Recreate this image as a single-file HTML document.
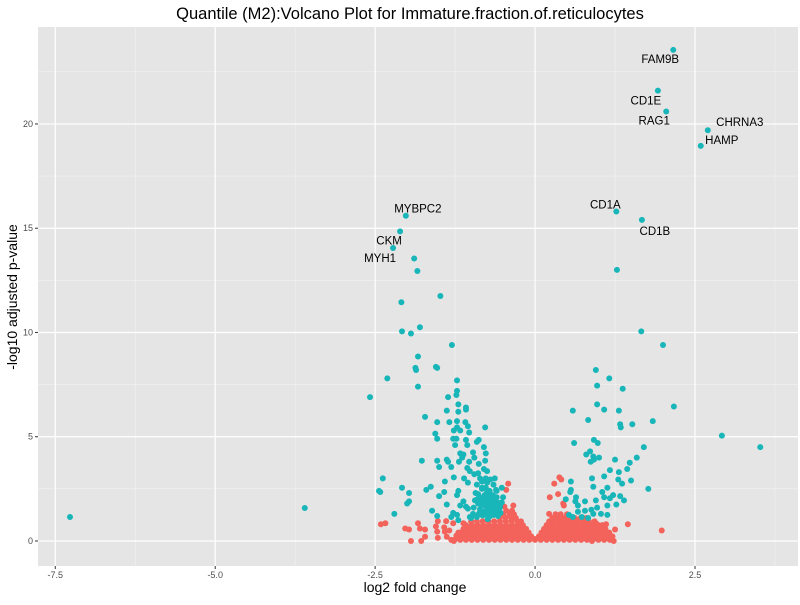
<!DOCTYPE html>
<html><head><meta charset="utf-8"><style>
body{margin:0;background:#fff;}
svg text{font-family:"Liberation Sans",Arial,sans-serif;}
</style></head><body>
<svg id="chart" width="800" height="600" xmlns="http://www.w3.org/2000/svg">
<text x="410" y="19" font-size="16.5" text-anchor="middle" fill="#000">Quantile (M2):Volcano Plot for Immature.fraction.of.reticulocytes</text>
<rect x="38" y="27" width="760" height="539" fill="#E5E5E5"/>
<g id="grid"></g><g id="ns"></g><g id="sig"></g><g id="labels"></g><g id="axes"></g>
<text x="415" y="592" font-size="14" text-anchor="middle">log2 fold change</text>
<text transform="translate(17,297) rotate(-90)" font-size="14" text-anchor="middle">-log10 adjusted p-value</text>
</svg>
<script>
const xTicks=[-7.5,-5.0,-2.5,0.0,2.5];
const xTickLabels=["-7.5","-5.0","-2.5","0.0","2.5"];
const yTicks=[0,5,10,15,20];
const yTickLabels=["0","5","10","15","20"];
const labelNames=["FAM9B","CD1E","RAG1","CHRNA3","HAMP","CD1A","CD1B","MYBPC2","CKM","MYH1"];
const labelX=[2.16,1.92,2.05,2.70,2.59,1.27,1.67,-2.02,-2.11,-2.22];
const labelY=[23.55,21.6,20.6,19.7,18.95,15.8,15.4,15.6,14.85,14.05];
const sigX=[-1.89,-1.84,1.28,-1.48,-2.09,-1.80,-2.08,-1.94,1.66,-1.30,2.0,-1.83,-1.87,-1.86,-1.55,-2.31,-2.58,-1.22,0.95,1.16,1.37,2.17,1.84,2.92,3.52,-3.6,-7.27,
-1.53,-1.83,-1.22,-1.36,-1.23,-1.20,-1.08,-1.08,-1.38,-1.2,-1.72,-1.53,-1.34,-1.22,-1.09,-1.05,-1.22,-1.27,-1.17,-0.78,-1.03,-1.56,-1.53,-1.28,-1.23,-1.08,-0.91,-0.88,-1.25,-1.06,-0.8,-0.77,-0.97,-1.17,-1.12,-0.95,-1.14,-1.77,-1.53,-1.38,-1.36,-1.19,-1.03,-0.88,-0.78,-1.31,-1.50,-1.06,-0.8,-0.75,-1.02,-0.89,-0.95,-1.27,-2.38,-1.41,-1.11,-1.05,-0.86,-0.77,-0.7,-0.63,-0.83,-0.75,-0.91,-0.83,-2.08,-1.63,-1.70,-2.42,-1.97,-1.42,-1.2,-1.22,-1.5,-0.6,-0.52,-0.75,-0.89,-0.81,-0.7,-0.6,-0.5,-1.12,-0.94,-0.89,-1.97,-2.0,-1.38,-1.17,-1.08,-1.05,-0.75,-0.66,-0.55,-0.73,-0.6,-0.86,-1.61,-2.2,-1.28,-1.22,-0.97,-1.53,-1.31,-1.2,-1.02,-0.91,-0.81,-0.7,-0.6,-0.65,-0.72,-0.58,-0.68,-0.62,-0.55,-0.78,-0.52,-0.66,-0.74,-2.44,
-0.58,-0.64,-0.7,-0.76,-0.82,-0.88,-0.56,-0.62,-0.68,-0.74,-0.8,-0.86,-0.6,-0.66,-0.72,-0.78,-0.84,-0.63,-0.69,-0.75,-0.81,-0.9,-0.57,-0.67,-0.73,-0.79,-0.85,-0.93,-0.61,-0.71,-0.77,-0.83,-0.65,-0.59,-0.54,-0.96,-1.0,
0.97,0.97,0.59,1.08,1.31,0.83,1.33,1.34,1.52,0.61,0.92,0.98,0.86,0.8,0.91,1.0,0.92,0.87,1.70,1.25,1.59,1.48,1.44,1.17,1.31,1.08,0.89,1.3,1.5,1.36,0.56,0.56,0.55,0.91,1.13,1.77,1.05,0.48,0.64,0.63,0.78,0.95,1.08,1.17,1.22,1.33,1.39,1.27,1.13,0.67,0.67,0.78,0.88,0.97,0.91,1.03,1.13,0.53,0.59,0.73,0.83];
const sigY=[13.55,12.95,13.0,11.75,11.45,10.25,10.05,9.95,10.05,9.4,9.4,8.85,8.3,8.2,8.35,7.8,6.9,7.7,8.2,7.8,7.3,6.45,5.75,5.05,4.5,1.58,1.15,
8.3,7.4,7.2,6.9,7.0,6.55,6.4,6.3,6.25,6.2,5.95,5.7,5.7,5.75,5.7,5.5,5.45,5.3,5.3,5.45,5.2,5.15,4.9,4.9,4.9,4.85,4.75,4.85,4.6,4.6,4.5,4.2,4.25,4.2,4.15,4.0,4.0,3.85,3.85,3.9,3.8,3.8,3.8,3.7,3.85,3.55,3.55,3.5,3.45,3.35,3.35,3.25,3.2,3.05,3.0,2.85,3.0,2.8,3.0,3.0,2.95,3.0,2.85,2.8,2.7,2.55,2.55,2.6,2.45,2.35,2.3,2.35,2.4,2.2,2.15,2.4,2.55,2.35,2.25,2.1,2.2,2.1,2.1,1.9,1.95,1.8,1.9,1.8,1.75,1.7,1.65,1.55,1.7,1.65,1.7,1.5,1.4,1.4,1.45,1.3,1.35,1.25,1.3,1.2,1.15,1.0,1.15,1.15,1.25,1.2,1.3,1.55,1.45,1.35,1.9,1.75,1.6,2.0,1.85,2.2,1.05,2.4,
1.2,1.25,1.2,1.28,1.22,1.3,1.45,1.5,1.42,1.48,1.4,1.52,1.7,1.65,1.72,1.68,1.75,1.9,1.95,1.88,1.92,2.0,1.6,2.15,2.1,2.2,2.05,2.3,2.45,2.4,2.55,2.5,2.7,1.85,1.35,1.6,1.1,
7.45,6.55,6.25,6.3,6.25,5.8,5.6,5.45,5.6,4.7,4.85,4.7,4.3,4.15,4.05,4.0,3.9,3.8,4.5,3.9,4.0,3.75,3.45,3.4,3.3,3.1,3.0,2.95,2.9,2.75,2.85,2.45,2.35,2.6,2.55,2.5,2.35,2.0,2.1,1.9,1.9,1.95,2.1,2.05,2.2,2.15,1.95,1.75,1.7,1.7,1.4,1.45,1.5,1.6,1.3,1.3,1.25,1.25,1.15,1.15,1.1];
const nsX=[-1.26,-1.17,-1.08,-0.99,-0.9,-0.81,-0.72,-0.63,-0.54,-0.45,-0.36,-0.27,-0.18,-0.09,0,0.09,0.18,0.27,0.36,0.45,0.54,0.63,0.72,0.81,0.9,0.99,1.08,1.17,
-1.22,-1.13,-1.04,-0.95,-0.86,-0.77,-0.68,-0.59,-0.5,-0.41,-0.32,-0.23,-0.14,-0.06,0.06,0.14,0.23,0.32,0.41,0.5,0.59,0.68,0.77,0.86,0.95,1.04,1.13,1.21,
-1.17,-1.08,-0.99,-0.9,-0.81,-0.72,-0.63,-0.54,-0.45,-0.36,-0.27,-0.18,-0.1,0.1,0.18,0.27,0.36,0.45,0.54,0.63,0.72,0.81,0.9,0.99,1.08,1.16,
-1.12,-1.03,-0.94,-0.85,-0.76,-0.67,-0.58,-0.49,-0.4,-0.31,-0.22,-0.14,0.14,0.22,0.31,0.4,0.49,0.58,0.67,0.76,0.85,0.94,1.03,1.1,
-1.08,-0.99,-0.9,-0.81,-0.72,-0.63,-0.54,-0.45,-0.36,-0.27,-0.19,0.18,0.27,0.36,0.45,0.54,0.63,0.72,0.81,0.9,0.99,1.05,
-1.0,-0.91,-0.82,-0.73,-0.64,-0.55,-0.46,-0.37,-0.28,-0.22,0.22,0.3,0.39,0.48,0.57,0.66,0.75,0.84,0.93,
-0.55,-0.46,-0.37,-0.3,0.27,0.35,0.44,0.53,0.62,0.71,0.8,
-0.5,-0.4,-0.33,0.32,0.4,0.5,-0.45,-0.36,
-1.21,-1.12,-1.03,-0.94,-0.85,-0.76,-0.67,-0.58,-0.49,-0.4,-0.31,-0.22,-0.13,-0.04,0.04,0.13,0.22,0.31,0.4,0.49,0.58,0.67,0.76,0.85,0.94,1.03,1.12,1.2,
-1.13,-1.04,-0.95,-0.86,-0.77,-0.68,-0.59,-0.5,-0.41,-0.32,-0.23,-0.13,0.13,0.23,0.32,0.41,0.5,0.59,0.68,0.77,0.86,0.95,1.04,1.12,
-1.05,-0.96,-0.87,-0.78,-0.69,-0.6,-0.51,-0.42,-0.33,-0.24,-0.17,0.17,0.24,0.33,0.42,0.51,0.6,0.69,0.78,0.87,0.96,1.06,
-0.95,-0.86,-0.77,-0.68,-0.59,-0.5,-0.41,-0.32,-0.25,0.25,0.34,0.43,0.52,0.61,0.7,0.79,0.88,0.97,
-0.42,-0.45,-0.34,-0.48,-2.41,-2.34,-2.03,-1.97,-1.83,-1.8,-1.72,-1.94,-1.78,-1.72,-1.52,-1.55,-1.39,-1.42,-1.28,-1.53,-1.52,-1.41,-1.34,-1.38,-1.31,-1.27,-1.23,-1.2,-1.12,
0.38,0.41,0.3,0.23,0.36,0.44,0.45,0.22,0.95,1.11,1.45,1.25,1.23,0.89,0.95,1.98];
const nsY=[0.05,0.05,0.05,0.05,0.05,0.05,0.05,0.05,0.05,0.05,0.05,0.05,0.05,0.05,0.05,0.05,0.05,0.05,0.05,0.05,0.05,0.05,0.05,0.05,0.05,0.05,0.05,0.05,
0.22,0.22,0.22,0.22,0.22,0.22,0.22,0.22,0.22,0.22,0.22,0.22,0.22,0.22,0.22,0.22,0.22,0.22,0.22,0.22,0.22,0.22,0.22,0.22,0.22,0.22,0.22,0.22,
0.4,0.4,0.4,0.4,0.4,0.4,0.4,0.4,0.4,0.4,0.4,0.4,0.4,0.4,0.4,0.4,0.4,0.4,0.4,0.4,0.4,0.4,0.4,0.4,0.4,0.4,
0.58,0.58,0.58,0.58,0.58,0.58,0.58,0.58,0.58,0.58,0.58,0.58,0.58,0.58,0.58,0.58,0.58,0.58,0.58,0.58,0.58,0.58,0.58,0.58,
0.76,0.76,0.76,0.76,0.76,0.76,0.76,0.76,0.76,0.76,0.76,0.76,0.76,0.76,0.76,0.76,0.76,0.76,0.76,0.76,0.76,0.76,
0.94,0.94,0.94,0.94,0.94,0.94,0.94,0.94,0.94,0.94,0.94,0.94,0.94,0.94,0.94,0.94,0.94,0.94,0.94,
1.1,1.1,1.1,1.1,1.1,1.1,1.1,1.1,1.1,1.1,1.1,
1.28,1.28,1.28,1.28,1.28,1.28,1.45,1.45,
0.13,0.13,0.13,0.13,0.13,0.13,0.13,0.13,0.13,0.13,0.13,0.13,0.13,0.13,0.13,0.13,0.13,0.13,0.13,0.13,0.13,0.13,0.13,0.13,0.13,0.13,0.13,0.13,
0.31,0.31,0.31,0.31,0.31,0.31,0.31,0.31,0.31,0.31,0.31,0.31,0.31,0.31,0.31,0.31,0.31,0.31,0.31,0.31,0.31,0.31,0.31,0.31,
0.49,0.49,0.49,0.49,0.49,0.49,0.49,0.49,0.49,0.49,0.49,0.49,0.49,0.49,0.49,0.49,0.49,0.49,0.49,0.49,0.49,0.49,
0.67,0.67,0.67,0.67,0.67,0.67,0.67,0.67,0.67,0.67,0.67,0.67,0.67,0.67,0.67,0.67,0.67,0.67,
2.75,2.45,1.7,1.65,0.8,0.85,0.6,0.55,0.85,0.6,0.55,0.0,0.0,0.2,0.95,0.7,0.95,0.65,0.85,0.45,0.15,0.45,0.5,0.2,0.05,0.0,0.25,0.4,0.85,
3.05,2.95,2.75,2.1,2.25,1.8,1.7,1.3,0.85,0.8,0.8,0.55,0.0,0.0,0.4,0.5];
const labelOffsetX=[-13,-12,-12,32,21,-11,13,12,-11,-13];
const labelOffsetY=[9,10,9,-8,-6,-7,11,-7,9,10];

const NS='http://www.w3.org/2000/svg';
const L=38,R=798,T=27,B=566;
const xMin=-7.77,xMax=4.11,yMin=-1.2,yMax=24.65;
const sx=v=>L+(v-xMin)/(xMax-xMin)*(R-L);
const sy=v=>B-(v-yMin)/(yMax-yMin)*(B-T);
function mk(tag,attrs,parent){const e=document.createElementNS(NS,tag);for(const k in attrs)e.setAttribute(k,attrs[k]);parent.appendChild(e);return e;}
const grid=document.getElementById('grid');
for(let i=0;i<xTicks.length;i++){
  const m=xTicks[i]+1.25;
  if(m<xMax){const g=mk('line',{x1:sx(m),x2:sx(m),y1:T,y2:B,stroke:'#F2F2F2','stroke-width':0.6},grid);
  
  }
}
for(let i=0;i<yTicks.length;i++){
  const m=yTicks[i]+2.5;
  const g=mk('line',{x1:L,x2:R,y1:sy(m),y2:sy(m),stroke:'#F2F2F2','stroke-width':0.6},grid);
  
  
}
const axes=document.getElementById('axes');
xTicks.forEach((t,i)=>{
  const g=mk('line',{x1:sx(t),x2:sx(t),y1:T,y2:B,stroke:'#fff','stroke-width':1.2},grid);
  
  
  const tk=mk('line',{x1:sx(t),x2:sx(t),y1:B,y2:B+3,stroke:'#333','stroke-width':1},axes);
  
  
  const tx=mk('text',{x:sx(t),y:B+12,'font-size':9,'text-anchor':'middle',fill:'#4D4D4D'},axes);
  tx.textContent=xTickLabels[i];
  
  
});
yTicks.forEach((t,i)=>{
  const g=mk('line',{x1:L,x2:R,y1:sy(t),y2:sy(t),stroke:'#fff','stroke-width':1.2},grid);
  
  
  const tk=mk('line',{x1:L-3,x2:L,y1:sy(t),y2:sy(t),stroke:'#333','stroke-width':1},axes);
  
  
  const tx=mk('text',{x:L-5,y:sy(t)+3,'font-size':9,'text-anchor':'end',fill:'#4D4D4D'},axes);
  tx.textContent=yTickLabels[i];
  
  
});
const nsG=document.getElementById('ns');
nsX.forEach((x,i)=>{
  const c=mk('circle',{cx:sx(x),cy:sy(nsY[i]),r:3,fill:'#F3625B'},nsG);
  
  
});
const sigG=document.getElementById('sig');
const allSX=labelX.concat(sigX), allSY=labelY.concat(sigY);
allSX.forEach((x,i)=>{
  const c=mk('circle',{cx:sx(x),cy:sy(allSY[i]),r:3,fill:'#19B6B9'},sigG);
  
  
});
const lg=document.getElementById('labels');
labelNames.forEach((n,i)=>{
  const t=mk('text',{x:sx(labelX[i])+labelOffsetX[i],y:sy(labelY[i])+labelOffsetY[i]+4,'font-size':11.5,'text-anchor':'middle',fill:'#000'},lg);
  t.textContent=n;
  
  
});
</script>
</body></html>
